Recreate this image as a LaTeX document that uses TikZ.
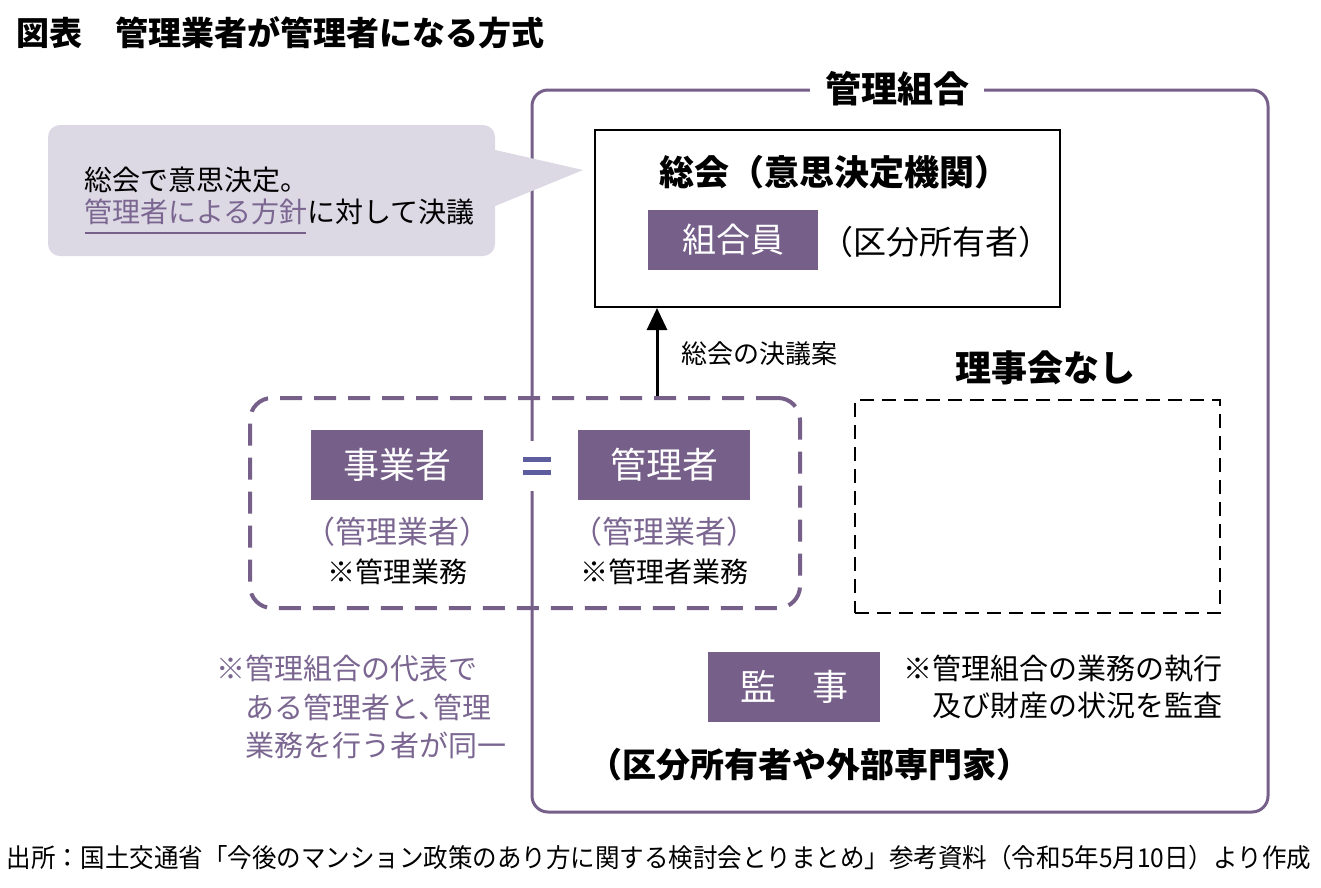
\documentclass[tikz,border=0pt]{standalone}
\usepackage{fontspec}
\usepackage{graphicx}
\setmainfont{Noto Sans CJK JP}
\usetikzlibrary{arrows.meta}
\definecolor{pur}{HTML}{76608A}
\definecolor{lav}{HTML}{DCD8E4}
\definecolor{ptext}{HTML}{7A6690}
\definecolor{eqc}{HTML}{5E5E9E}
\tikzset{
  fs/.style={font=\fontsize{#1}{#1}\selectfont},
  fsb/.style={font=\fontsize{#1}{#1}\selectfont\bfseries},
  txt/.style={inner sep=0pt},
  pbox/.style={fill=pur, text=white, minimum width=172pt, minimum height=70pt, inner sep=0pt, font=\fontsize{36}{36}\selectfont},
}
\begin{document}
\begin{tikzpicture}[x=1pt,y=-1pt]
\useasboundingbox[fill=white] (0,0) rectangle (1321,887);
% title
\node[txt, anchor=west, fsb=33] (title) at (16,33) {図表\hspace{1em}管理業者が管理者になる方式};
% outer box
\node[draw=pur, line width=3pt, rounded corners=16pt, minimum width=736pt, minimum height=722pt, inner sep=0pt] (kumiai) at (900,451) {};
\node[txt, fill=white, inner xsep=15pt, fsb=36] (kumiailbl) at (kumiai.north -| 897,0) {管理組合};
% speech bubble
\node[fill=lav, rounded corners=12pt, minimum width=447pt, minimum height=131pt, inner sep=0pt] (bubble) at (271.5,190.5) {};
\coordinate (tip) at (583,170);
\fill[lav] (bubble.east |- 0,150) -- (tip) -- (bubble.east |- 0,206) -- ([xshift=-10pt]bubble.east |- 0,206) -- ([xshift=-10pt]bubble.east |- 0,150) -- cycle;
\node[txt, anchor=west, fs=28] (b1) at (84,180) {総会で意思決定。};
\node[txt, anchor=west, fs=28] (b2) at (84,212) {\textcolor{ptext}{管理者による方針}に対して決議};
\coordinate (ul1) at (85,233);
\coordinate (ul2) at (306,233);
\draw[pur, line width=2pt] (ul1) -- (ul2);
% general meeting box
\node[draw=black, line width=2pt, minimum width=465pt, minimum height=177pt, inner sep=0pt] (soukai) at (827.5,218.5) {};
\node[txt, fsb=35] (soukaittl) at (834,172) {総会（意思決定機関）};
\node[pbox, minimum width=170pt, minimum height=60pt, font=\fontsize{34}{34}\selectfont] (kumiaiin) at (733,240) {組合員};
\node[txt, anchor=west, fs=33] (kubun1) at (820,242) {（区分所有者）};
% no board
\node[txt, fsb=36] (nashi) at (1045,368) {理事会なし};
\node[draw=black, line width=1.8pt, dash pattern=on 14pt off 8pt, minimum width=365pt, minimum height=213pt, inner sep=0pt] (rijikai) at (1037.5,506.5) {};
% dashed group
\node[draw=pur, line width=4pt, dash pattern=on 22pt off 12pt, rounded corners=22pt, minimum width=550pt, minimum height=210pt, inner sep=0pt] (grp) at (525,503) {};
\coordinate (arrS) at (grp.north -| 657,0);
\draw[-{Triangle[width=20pt,length=22pt]}, line width=3pt] (arrS) -- (arrS |- soukai.south);
\node[txt, anchor=west, fs=26] (ketsugi) at (681,354) {総会の決議案};
\node[pbox] (jigyo) at (397,465) {事業者};
\node[pbox] (kanrisha) at (664,465) {管理者};
\node[fill=white, minimum width=30pt, minimum height=50pt, inner sep=0pt] (eq) at (537,466) {};
\draw[eqc, line width=5pt] ([xshift=-14pt,yshift=6.5pt]eq.center) -- ([xshift=14pt,yshift=6.5pt]eq.center);
\draw[eqc, line width=5pt] ([xshift=-14pt,yshift=-6.5pt]eq.center) -- ([xshift=14pt,yshift=-6.5pt]eq.center);
\node[txt, fs=31, text=ptext] (g1) at (397,532) {（管理業者）};
\node[txt, fs=31, text=ptext] (g2) at (664,532) {（管理業者）};
\node[txt, fs=28] (m1) at (397,572) {※管理業務};
\node[txt, fs=28] (m2) at (664,572) {※管理者業務};
% note
\node[txt, anchor=west, align=left, text=ptext, font=\fontsize{29}{38.5}\selectfont] (note) at (216,707) {※管理組合の代表で\\\hspace*{1em}ある管理者と、\kern-0.45em管理\\\hspace*{1em}業務を行う者が同一};
% auditor
\node[pbox] (kanji) at (794,687) {監\hspace{1em}事};
\node[txt, anchor=west, align=left, font=\fontsize{29}{37}\selectfont] (kanjinote) at (903,687) {※管理組合の業務の執行\\\hspace*{1em}及び財産の状況を監査};
\node[txt, fsb=34] (kubun2) at (809,765) {（区分所有者や外部専門家）};
% footer
\node[txt, fs=26] (src) at (659,858) {\resizebox{1304pt}{\height}{出所：国土交通省「今後のマンション政策のあり方に関する検討会とりまとめ」参考資料（令和5年5月10日）より作成}};
\end{tikzpicture}
\end{document}
